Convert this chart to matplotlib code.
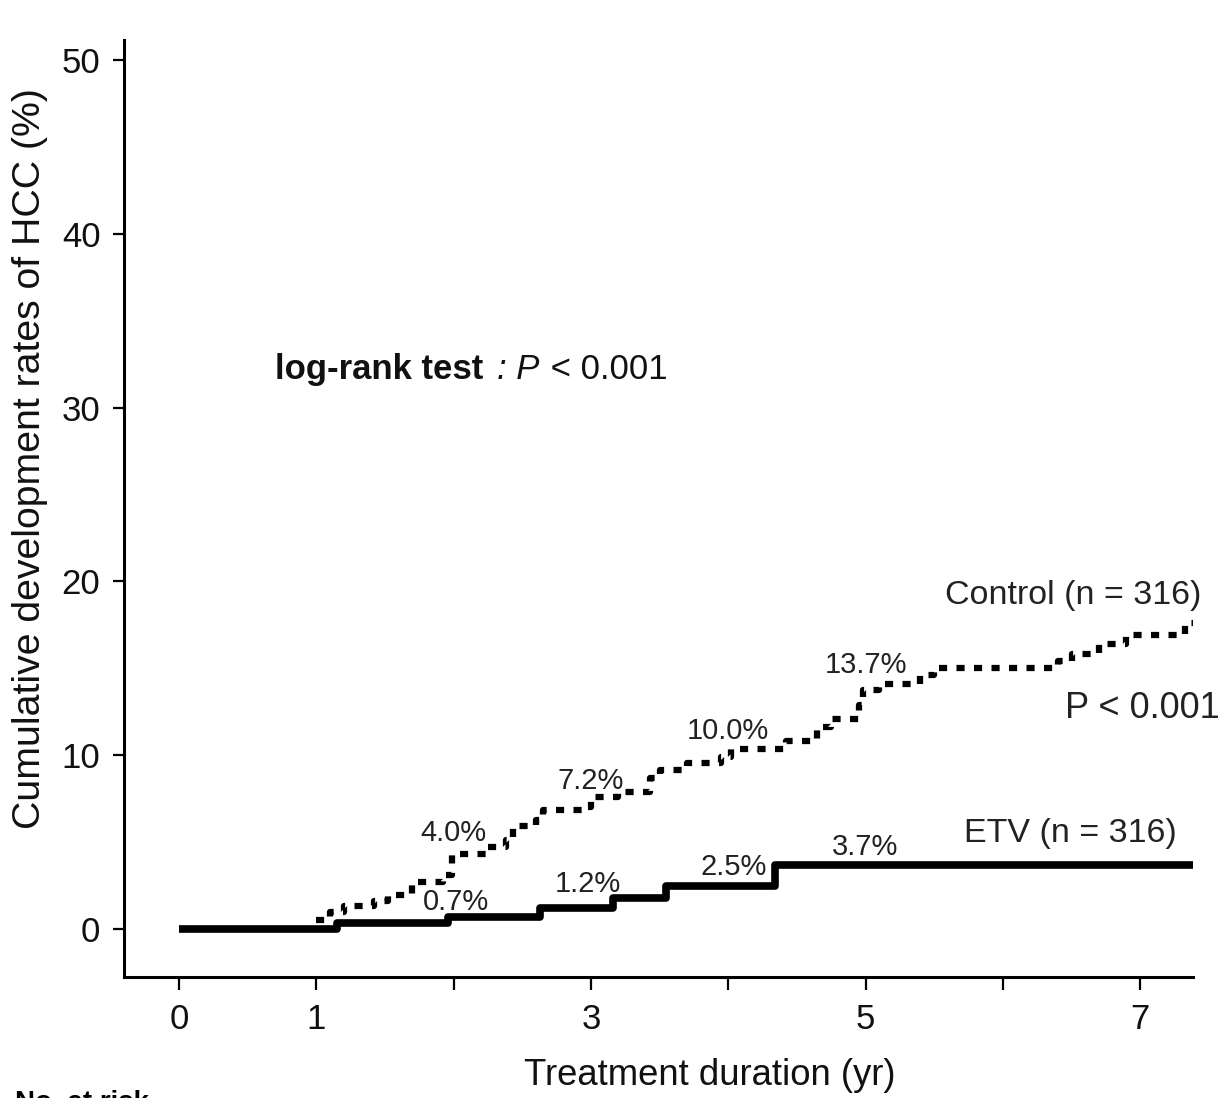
import matplotlib
matplotlib.use("Agg")
import matplotlib.pyplot as plt

plt.rcParams['font.family'] = ['Liberation Sans', 'DejaVu Sans']

# ETV group, cumulative HCC rate (%), step after each time (yr)
etv_time = [0, 1.15, 1.96, 2.63, 3.16, 3.55, 4.34, 7.385]
etv_rate = [0, 0.35, 0.7, 1.2, 1.8, 2.5, 3.7, 3.7]

# Control group
ctl_time = [1.0, 1.1, 1.2, 1.42, 1.52, 1.7, 1.92, 1.99, 2.25, 2.38, 2.43, 2.6,
            2.65, 2.95, 3.0, 3.2, 3.43, 3.5, 3.7, 3.95, 4.02, 4.42, 4.65, 4.75,
            4.95, 4.98, 5.1, 5.4, 5.5, 6.4, 6.5, 6.7, 6.9, 7.33, 7.385]
ctl_rate = [0.5, 1.0, 1.3, 1.6, 1.95, 2.7, 3.1, 4.3, 4.7, 5.1, 5.9, 6.3,
            6.85, 7.0, 7.6, 7.9, 8.7, 9.15, 9.55, 9.9, 10.35, 10.8, 11.6, 12.1,
            12.9, 13.75, 14.1, 14.6, 15.0, 15.4, 15.8, 16.4, 16.9, 17.6, 17.6]

# yearly rate labels (x, y, text)
ctl_labels = [(2.0, 5.5, '4.0%'), (3.0, 8.5, '7.2%'), (4.0, 11.4, '10.0%'), (5.0, 15.2, '13.7%')]
etv_labels = [(2.02, 1.55, '0.7%'), (2.98, 2.6, '1.2%'), (4.04, 3.55, '2.5%'), (5.0, 4.7, '3.7%')]

x_ticks = [0, 1, 2, 3, 4, 5, 6, 7]
x_ticklabels = ['0', '1', '', '3', '', '5', '', '7']
y_ticks = [0, 10, 20, 30, 40, 50]

fig = plt.figure(figsize=(12.24, 10.98), dpi=100)
ax = fig.add_axes([0.1013, 0.1102, 0.8734, 0.8534])

ax.step(etv_time, etv_rate, where='post', color='black', lw=5.5, solid_capstyle='butt')
ax.step(ctl_time, ctl_rate, where='post', color='black', lw=4.5,
        dashes=(1.3, 1.5), dash_capstyle='butt')

for x, y, t in ctl_labels + etv_labels:
    ax.text(x, y, t, fontsize=21, ha='center', va='center', color='#222222')

ax.text(5.58, 19.2, 'Control (n = 316)', fontsize=24.5, ha='left', va='center', color='#222222')
ax.text(5.72, 5.5, 'ETV (n = 316)', fontsize=24.5, ha='left', va='center', color='#222222')
ax.text(6.45, 12.7, 'P < 0.001', fontsize=26, ha='left', va='center', color='#222222')

# "log-rank test : P < 0.001" in three runs (bold, italic, regular)
t1 = ax.text(0.70, 32.2, 'log-rank test', fontsize=25, ha='left', va='center',
             weight='bold', color='#111111')
fig.canvas.draw()
bb = t1.get_window_extent().transformed(ax.transData.inverted())
t2 = ax.text(bb.x1 + 0.03, 32.2, ': P', fontsize=25, ha='left', va='center',
             style='italic', color='#111111')
fig.canvas.draw()
bb2 = t2.get_window_extent().transformed(ax.transData.inverted())
ax.text(bb2.x1, 32.2, ' < 0.001', fontsize=25, ha='left', va='center', color='#111111')

ax.set_xlim(-0.4006, 7.385)
ax.set_ylim(-2.76, 51.15)
ax.set_xticks(x_ticks)
ax.set_xticklabels(x_ticklabels)
ax.set_yticks(y_ticks)

for s in ['top', 'right']:
    ax.spines[s].set_visible(False)
for s in ['left', 'bottom']:
    ax.spines[s].set_linewidth(2.2)
ax.tick_params(axis='x', direction='out', length=9, width=1.6, pad=10, labelsize=25,
               labelcolor='#111111')
ax.tick_params(axis='y', direction='out', length=8, width=1.6, pad=9, labelsize=25,
               labelcolor='#111111')

ax.set_ylabel('Cumulative development rates of HCC (%)', fontsize=28.3, color='#111111')
ax.yaxis.set_label_coords(-0.088, 0.553)
ax.yaxis.label.set_va('center')
ax.set_xlabel('Treatment duration (yr)', fontsize=26.3, color='#111111')
ax.xaxis.set_label_coords(0.548, -0.1046)
ax.xaxis.label.set_va('center')

fig.text(0.012, 1 - 1090 / 1098, 'No. at risk', fontsize=20, ha='left', va='top',
         weight='bold')

fig.savefig('out.png', dpi=100, facecolor='white')
